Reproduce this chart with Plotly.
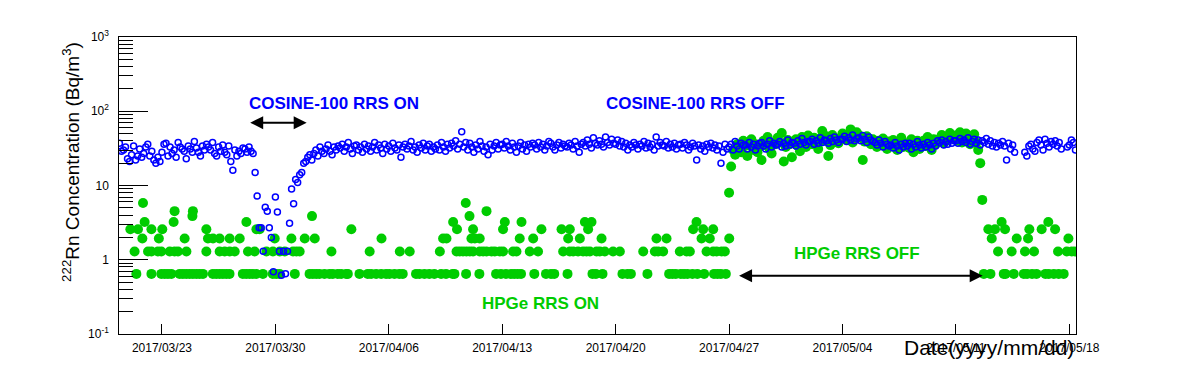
import pandas as pd
import plotly.graph_objects as go

BLUE = "#0000ff"
GREEN = "#00cc00"
FONT = "Liberation Sans, Arial, sans-serif"

# COSINE-100 radon monitor, one reading every 3 h (None = no reading)
cosine_mar_start = "2017-03-20 09:00"
cosine_mar = [
    37, 29, 30, 33, 23,
    21, 26, 34, 22, 25, 31, 24, 27,
    33, 36, 25, 29, 22, 20, 24, 21,
    28, 36, 37, 25, 33, 27, 30, 24,
    38, 33, 31, 29, 23, 34, 31, 28,
    39, 32, 28, 25, 34, 30, 36, 33,
    30, 38, 27, 25, 33, 29, 35, 28,
    26, 34, 21, 16, 30, 25, 29, 27,
    32, 31, 28, 33, 29, 27, 15, 7.2,
    2.7, 2.7, 1.3, 5.1, 4.5, 2.7, 2.0, 0.69,
    7.0, 4.4, 1.3, 0.62, 1.3, 0.65, 1.3, 3.1,
    9.0, 5.7, 12, 11, 14, 15, 20, 21,
]
cosine_apr_start = "2017-04-01 00:00"
cosine_apr = [
    24, 26, 22, 27, 30, 25, 33, 29,
    27, 31, 35, 29, 26, 33, 30, 34,
    32, 36, 29, 33, 38, 31, 27, 34,
    35, 30, 33, 28, 36, 31, 34, 29,
    33, 38, 30, 35, 32, 27, 36, 31,
    34, 29, 37, 32, 30, 35, 24, 33,
    36, 31, 34, 39, 30, 33, 28, 35,
    32, 37, 30, 34, 36, 29, 33, 31,
    35, 30, 38, 33, 29, 36, 32, 37,
    34, 40, 31, 36, 53, 33, 38, 30,
    37, 33, 28, 35, 31, 39, 34, 29,
    33, 26, 36, 30, 34, 38, 31, 35,
    36, 32, 39, 34, 30, 37, 33, 28,
    34, 38, 31, 35, 29, 36, 33, 37,
    35, 31, 38, 33, 36, 30, 34, 39,
    37, 33, 30, 35, 38, 32, 36, 34,
    33, 37, 35, 31, 39, 34, 28, 36,
    38, 34, 41, 36, 32, 44, 37, 35,
    40, 36, 33, 45, 38, 35, 42, 37,
    36, 41, 34, 39, 33, 37, 30, 35,
    33, 38, 35, 31, 36, 34, 39, 32,
    37, 33, 36, 30, 45, 34, 38, 35,
    34, 39, 32, 36, 33, 37, 31, 35,
    36, 32, 38, 35, 30, 33, 37, 34,
    22, 35, 31, 34, 29, 36, 33, 37,
    32, 35, 30, 34, 20, 28, 36, 31,
    33, 36, 30, 39, 34, 31, 37, 35,
    35, 31, 38, 33, 36, 30, 34, 37,
    38, 34, 31, 36, 40, 33, 37, 35,
    36, 39, 33, 37, 34, 41, 35, 38,
]
cosine_may_start = "2017-05-01 00:00"
cosine_may = [
    37, 34, 40, 36, 43, 38, 35, 39,
    39, 42, 36, 40, 37, 44, 38, 41,
    40, 37, 43, 39, 45, 41, 38, 42,
    42, 46, 39, 44, 41, 48, 40, 43,
    44, 40, 47, 42, 38, 45, 41, 39,
    38, 35, 41, 37, 33, 39, 36, 34,
    35, 32, 38, 34, 30, 36, 33, 37,
    34, 37, 31, 36, 33, 39, 35, 32,
    36, 33, 38, 35, 31, 37, 34, 40,
    38, 41, 35, 39, 36, 42, 37, 40,
    40, 37, 43, 39, 41, 38, 44, 36,
    39, 42, 37, 41, 35, 40, 38, 43,
    36, 40, 34, 38, 33, 37, 35, 39,
    34, 22, 37, 31, 35, 28, None, None,
    None, None, 28, 25, 34, 36, 31, 29,
    38, 41, 35, 30, 42, 37, 33, 39,
    36, 40, 34, 38, 31, None, None, 33,
    35, 41, 38, 30,
]

# HPGe with RRS on: low counts, values are multiples of one count
hpge_t0 = "2017-03-20 00:00"
hpge_unit = 0.645  # Bq/m3 per count
# days since hpge_t0 at which 1, 2, 3 ... counts were measured
hpge_1 = [1.42, 2.35, 2.96, 3.17, 3.37, 3.58, 4.09, 4.29, 4.50, 4.71, 4.91, 5.12,
          5.32, 5.53, 6.14, 6.35, 6.56, 6.76, 6.97, 7.17, 7.99, 8.20, 8.41, 8.61,
          8.82, 9.23, 9.84, 10.05, 10.26, 11.20, 12.11, 12.31, 12.52, 12.72, 13.03,
          13.34, 13.54, 13.85, 14.06, 14.37, 14.47, 15.19, 15.70, 15.91, 16.22,
          16.53, 16.83, 17.04, 17.35, 17.65, 17.86, 18.68, 18.89, 19.20, 19.50,
          19.81, 20.23, 20.53, 20.94, 21.05, 21.77, 22.59, 23.62, 23.92, 24.23,
          24.54, 24.74, 24.95, 25.16, 25.98, 26.70, 27.01, 27.21, 28.03, 29.57,
          29.78, 30.19, 31.42, 31.73, 31.94, 32.96, 34.30, 34.50, 34.71, 35.02,
          35.22, 35.43, 35.74, 36.04, 36.46, 37.07, 37.28, 37.49, 37.80,
          53.72, 54.13, 54.95, 55.06, 55.57, 56.19, 56.39, 56.70, 56.97, 57.52,
          57.73, 58.04, 58.34, 58.65]
hpge_2 = [1.31, 2.14, 2.35, 2.75, 2.96, 3.48, 3.78, 3.99, 4.51, 5.74, 6.56, 6.87,
          7.18, 7.49, 8.31, 8.72, 9.45, 9.85, 10.27, 10.58, 11.09, 11.30, 11.50,
          13.46, 15.82, 17.68, 18.29, 20.15, 21.18, 21.38, 21.58, 21.79, 22.00,
          22.20, 22.61, 22.82, 23.03, 23.34, 23.54, 23.85, 24.05, 24.67, 24.88,
          25.70, 26.21, 27.76, 28.17, 28.38, 28.68, 28.99, 29.20, 29.41, 29.82,
          30.02, 30.33, 30.84, 31.26, 32.70, 33.42, 33.62, 33.93, 34.96, 35.38,
          35.58, 36.61, 37.02, 37.23, 37.54, 37.74,
          54.60, 55.44, 56.26, 56.82, 58.30, 58.84, 59.15, 59.35]
hpge_3 = [1.79, 2.81, 4.40, 5.84, 6.15, 6.56, 7.18, 7.80, 9.96, 10.99, 11.81, 12.43,
          16.55, 20.35, 20.56, 22.10, 22.31, 22.61, 25.08, 25.91, 28.07, 28.79,
          30.13, 33.52, 34.14, 36.30, 36.81, 38.01, 54.21, 55.75, 56.45, 58.94]
hpge_4 = [1.05, 1.52, 2.35, 3.02, 5.74, 8.83, 9.03, 14.69, 21.21, 22.20, 24.05,
          26.42, 27.66, 28.17, 29.30, 35.78, 36.40, 37.02,
          54.00, 54.41, 55.03, 56.53, 57.29, 58.12]
hpge_5 = [1.93, 3.72, 8.21, 20.97, 24.16, 25.19, 29.10, 29.51, 35.99, 54.82, 57.70]
hpge_6 = [4.88, 12.26, 21.98]
hpge_7 = [3.78, 4.91, 23.03]
hpge_9 = [1.83, 21.75]

# HPGe with RRS off, one reading every 3 h
hpge_off_start = "2017-04-27 00:00"
hpge_off = [
    8, 18, 30, 26, 36, 32, 28, 40,
    34, 25, 38, 42, 30, 36, 28, 33,
    22, 40, 35, 45, 31, 27, 38, 36,
    44, 38, 51, 21, 33, 41, 36, 24,
    37, 42, 34, 29, 45, 39, 33, 47,
    41, 36, 44, 38, 31, 43, 54, 40,
    46, 25, 35, 48, 42, 39, 37, 44,
    50, 45, 41, 47, 57, 38, 43, 52,
    48, 44, 22, 39, 46, 41, 36, 42,
    38, 33, 40, 35, 43, 37, 31, 39,
    34, 41, 36, 30, 38, 44, 33, 37,
    36, 32, 42, 28, 35, 40, 31, 38,
    40, 34, 45, 37, 30, 42, 36, 39,
    43, 48, 37, 40, 45, 51, 46, 42,
    47, 40, 52, 38, 45, 50, 43, 36,
    44, 49, 38, 30, 20, 6.4,
]

date_ticks = ["2017-03-23", "2017-03-30", "2017-04-06", "2017-04-13",
              "2017-04-20", "2017-04-27", "2017-05-04", "2017-05-11", "2017-05-18"]
x_range = ["2017-03-20 08:23", "2017-05-18 09:50"]
y_tick_vals = [0.1, 1, 10, 100, 1000]
y_tick_text = ["10<sup>-1</sup>", "1", "10", "10<sup>2</sup>", "10<sup>3</sup>"]


def series(start, values):
    t = pd.date_range(start, periods=len(values), freq="3h")
    return pd.DataFrame({"t": t, "v": values}).dropna()


cos = pd.concat([series(cosine_mar_start, cosine_mar),
                 series(cosine_apr_start, cosine_apr),
                 series(cosine_may_start, cosine_may)])

hp_parts = []
for n, days in [(1, hpge_1), (2, hpge_2), (3, hpge_3), (4, hpge_4),
                (5, hpge_5), (6, hpge_6), (7, hpge_7), (9, hpge_9)]:
    t = pd.Timestamp(hpge_t0) + pd.to_timedelta(days, unit="D")
    hp_parts.append(pd.DataFrame({"t": t, "v": n * hpge_unit}))
hp_parts.append(series(hpge_off_start, hpge_off))
hp = pd.concat(hp_parts)

fig = go.Figure()
fig.add_trace(go.Scatter(x=hp["t"], y=hp["v"], mode="markers",
                         marker=dict(color=GREEN, size=10, line=dict(width=0))))
fig.add_trace(go.Scatter(x=cos["t"], y=cos["v"], mode="markers",
                         marker=dict(symbol="circle-open", color=BLUE, size=6,
                                     line=dict(width=1.5, color=BLUE))))

minor_vals = [m * 10.0 ** e for e in (-1, 0, 1, 2) for m in range(2, 10)]

# the page body has an 8 px margin, so the plot box is pulled up/left by 8 px
fig.update_layout(
    width=1196, height=372,
    margin=dict(l=111, r=128, t=29, b=46),
    paper_bgcolor="white", plot_bgcolor="white",
    showlegend=False,
    font=dict(family=FONT, color="black"),
    xaxis=dict(
        type="date", range=x_range, automargin=False,
        showline=True, linecolor="black", linewidth=1, mirror=True,
        ticks="inside", ticklen=10, tickcolor="black",
        tickvals=date_ticks, tickformat="%Y/%m/%d", ticklabelstandoff=3,
        tickfont=dict(size=12), showgrid=False, zeroline=False,
    ),
    yaxis=dict(
        type="log", range=[-1, 3], automargin=False,
        showline=True, linecolor="black", linewidth=1, mirror=True,
        ticks="inside", ticklen=29, tickcolor="black",
        tickvals=y_tick_vals,
        ticktext=[t + "\u00a0\u00a0" for t in y_tick_text],
        tickfont=dict(size=12), showgrid=False, zeroline=False,
        minor=dict(tickvals=minor_vals, ticks="inside", ticklen=14,
                   tickcolor="black", showgrid=False),
    ),
)

notes = [
    ("COSINE-100 RRS ON", 0.2244, 0.7754, BLUE),
    ("COSINE-100 RRS OFF", 0.6023, 0.7754, BLUE),
    ("HPGe RRS ON", 0.4408, 0.102, GREEN),
    ("HPGe RRS OFF", 0.7711, 0.2727, GREEN),
]
for text, x, y, c in notes:
    fig.add_annotation(text=f"<b>{text}</b>", x=x, y=y, xref="paper", yref="paper",
                       xanchor="center", yanchor="middle",
                       showarrow=False, font=dict(size=17, color=c))

arrows = [
    ("2017-03-28 08:30", "2017-03-31 22:20", 1.846),
    ("2017-04-27 12:36", "2017-05-12 15:36", -0.215),
]
for a, b, ylog in arrows:
    fig.add_annotation(x=b, y=ylog, ax=a, ay=ylog, xref="x", yref="y",
                       axref="x", ayref="y", text="", showarrow=True,
                       arrowside="end+start", arrowhead=2, arrowsize=1.3,
                       arrowwidth=2, arrowcolor="black")

fig.add_annotation(text="<sup>222</sup>Rn Concentration (Bq/m<sup>3</sup>)",
                   textangle=-90, x=-0.05, y=0.58, xref="paper", yref="paper",
                   xanchor="center", yanchor="middle",
                   showarrow=False, font=dict(size=19))
fig.add_annotation(text="Date(yyyy/mm/dd)", x=1.0, y=-0.046, xref="paper",
                   yref="paper", xanchor="right", yanchor="middle",
                   showarrow=False, font=dict(size=21))

fig.write_html("out.html")
